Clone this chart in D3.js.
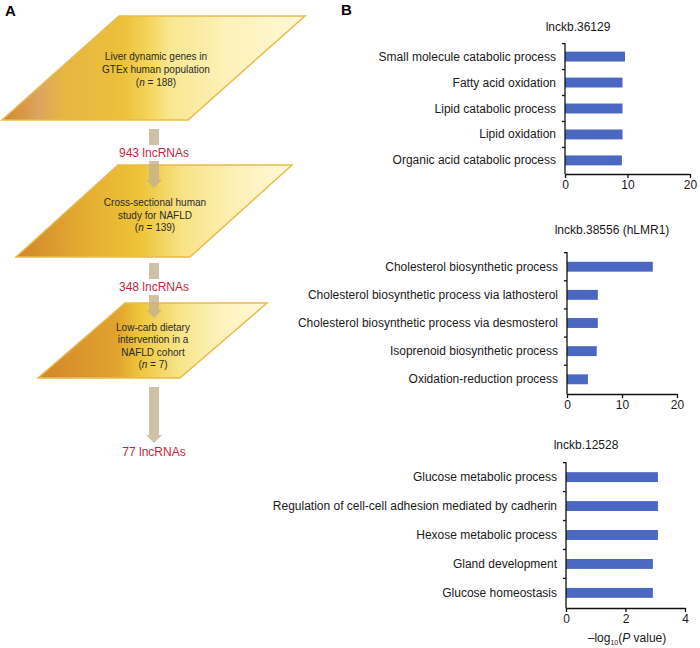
<!DOCTYPE html>
<html>
<head>
<meta charset="utf-8">
<script src="https://cdn.jsdelivr.net/npm/d3@7"></script>
<style>
  body { margin: 0; background: #fff; }
  svg { font-family: "Liberation Sans", Arial, Helvetica, sans-serif; }
</style>
</head>
<body>
<div class="fig"></div>
<script>
// panel B data
const terms1 = ['Small molecule catabolic process', 'Fatty acid oxidation', 'Lipid catabolic process', 'Lipid oxidation', 'Organic acid catabolic process']
const values1 = [9.6, 9.2, 9.2, 9.2, 9.1]
const ticks1 = [0, 10, 20]

const terms2 = ['Cholesterol biosynthetic process', 'Cholesterol biosynthetic process via lathosterol', 'Cholesterol biosynthetic process via desmosterol', 'Isoprenoid biosynthetic process', 'Oxidation-reduction process']
const values2 = [15.6, 5.6, 5.6, 5.4, 3.8]
const ticks2 = [0, 10, 20]

const terms3 = ['Glucose metabolic process', 'Regulation of cell-cell adhesion mediated by cadherin', 'Hexose metabolic process', 'Gland development', 'Glucose homeostasis']
const values3 = [3.09, 3.09, 3.09, 2.92, 2.92]
const ticks3 = [0, 2, 4]

const titles = ['lnckb.36129', 'lnckb.38556 (hLMR1)', 'lnckb.12528']

// panel A data
const steps = [
	['Liver dynamic genes in', 'GTEx human population', '188'],
	['Cross-sectional human', 'study for NAFLD', '139'],
	['Low-carb dietary', 'intervention in a', 'NAFLD cohort', '7']
]
const counts = ['943 lncRNAs', '348 lncRNAs', '77 lncRNAs']

const svg = d3.select('.fig')
	.append('svg')
	.attr('width', 700)
	.attr('height', 648)

const defs = svg.append('defs')

// panel letters
svg.append('text').attr('x', 5).attr('y', 16).text('A')
	.attr('font-size', 15).attr('font-weight', 'bold')
svg.append('text').attr('x', 341).attr('y', 15).text('B')
	.attr('font-size', 15).attr('font-weight', 'bold')

// ---- panel A: flow chart ----
// parallelogram boxes: top y, bottom y, bottom-left x, top-left x, top-right x
const boxes = [
	{ top: 16, bot: 120, bl: 2, tl: 119, tr: 305, lines: [60, 73, 86], cx: 156 },
	{ top: 165, bot: 257, bl: 16, tl: 118, tr: 292, lines: [206, 219, 231], cx: 155 },
	{ top: 303, bot: 378, bl: 38, tl: 125, tr: 267, lines: [331, 343, 356, 368], cx: 153 }
]

const gradStops = [
	[[0, '#d3862a'], [0.12, '#dca45e'], [0.2, '#e6b544'], [0.4, '#ecc13a'], [0.5, '#f6d862'], [0.55, '#f8e690'], [0.75, '#fdf2ba'], [1, '#fff8d6']],
	[[0, '#d2852a'], [0.25, '#e4ad32'], [0.45, '#edc438'], [0.6, '#f8e284'], [0.8, '#fdf1b8'], [1, '#fff8d6']],
	[[0, '#d2862a'], [0.35, '#e1a42e'], [0.45, '#efc73c'], [0.62, '#f8e48a'], [0.8, '#fdf2bc'], [1, '#fff8d8']]
]

boxes.forEach((b, i) => {
	const g = defs.append('linearGradient')
		.attr('id', 'grad' + i)
		.attr('gradientUnits', 'userSpaceOnUse')
		.attr('x1', b.bl).attr('x2', b.tr).attr('y1', 0).attr('y2', 0)
	g.selectAll('stop')
		.data(gradStops[i])
		.enter().append('stop')
		.attr('offset', d => d[0])
		.attr('stop-color', d => d[1])

	const off = b.tl - b.bl
	svg.append('path')
		.attr('d', `M${b.tl},${b.top}L${b.tr},${b.top}L${b.tr - off},${b.bot}L${b.bl},${b.bot}Z`)
		.attr('fill', `url(#grad${i})`)
		.attr('stroke', '#e9bb4c')
		.attr('stroke-width', 1.5)
})

// arrows between boxes
const arrows = [
	{ x: 154, y0: 129, y1: 188, label: 153 },
	{ x: 154, y0: 263, y1: 318, label: 287 },
	{ x: 154, y0: 387, y1: 443, label: 452 }
]

arrows.forEach((a, i) => {
	const hw = 5, hh = 8, head = 8
	svg.append('path')
		.attr('d', `M${a.x - hw},${a.y0}L${a.x + hw},${a.y0}L${a.x + hw},${a.y1 - head}L${a.x + hh},${a.y1 - head}L${a.x},${a.y1}L${a.x - hh},${a.y1 - head}L${a.x - hw},${a.y1 - head}Z`)
		.attr('fill', '#c4b08e')
		.attr('opacity', 0.8)

	svg.append('rect')
		.attr('x', a.x - 38).attr('y', a.label - 8)
		.attr('width', 76).attr('height', 16)
		.attr('fill', '#fff')
	svg.append('text')
		.attr('x', a.x).attr('y', a.label + 4)
		.attr('text-anchor', 'middle')
		.attr('font-size', 12)
		.attr('fill', '#cc1f40')
		.text(counts[i])
})

boxes.forEach((b, i) => {
	const lines = steps[i]
	lines.forEach((ln, j) => {
		const t = svg.append('text')
			.attr('x', b.cx).attr('y', b.lines[j])
			.attr('text-anchor', 'middle')
			.attr('font-size', 10)
			.attr('fill', '#2a2a2a')
		if (j === lines.length - 1) {
			t.append('tspan').text('(')
			t.append('tspan').attr('font-style', 'italic').text('n')
			t.append('tspan').text(' = ' + ln + ')')
		} else {
			t.text(ln)
		}
	})
})

// ---- panel B: bar charts ----
const charts = [
	{ terms: terms1, values: values1, ticks: ticks1, x0: 565, x1: 690, top: 43, bot: 174, tx: 578, ty: 31 },
	{ terms: terms2, values: values2, ticks: ticks2, x0: 567, x1: 677, top: 252, bot: 394, tx: 612, ty: 234 },
	{ terms: terms3, values: values3, ticks: ticks3, x0: 566, x1: 685, top: 462, bot: 608, tx: 586, ty: 449 }
]

charts.forEach((c, i) => {
	const x = d3.scaleLinear()
		.domain([c.ticks[0], c.ticks[c.ticks.length - 1]])
		.range([c.x0, c.x1])

	const y = d3.scaleBand()
		.domain(c.terms)
		.range([c.top, c.bot])
	y.paddingInner(1 - 10 / y.step()).paddingOuter((1 - 10 / y.step()) / 2)

	const graph = svg.append('g')

	graph.selectAll('rect')
		.data(c.values)
		.enter().append('rect')
		.attr('x', x(0))
		.attr('y', (d, k) => y(c.terms[k]))
		.attr('width', d => x(d) - x(0))
		.attr('height', y.bandwidth())
		.attr('fill', '#4a67c2')

	// y axis: ticks at band edges
	const edges = c.terms.map(t => y(t) - y.step() * y.paddingInner() / 2)
	graph.append('line')
		.attr('x1', c.x0).attr('x2', c.x0)
		.attr('y1', c.top).attr('y2', c.bot)
		.attr('stroke', '#111').attr('stroke-width', 1.3)
	graph.selectAll('.ytick')
		.data(edges)
		.enter().append('line')
		.attr('x1', c.x0 - 3).attr('x2', c.x0)
		.attr('y1', d => d).attr('y2', d => d)
		.attr('stroke', '#111').attr('stroke-width', 1.3)

	graph.selectAll('.ylab')
		.data(c.terms)
		.enter().append('text')
		.attr('x', c.x0 - 9)
		.attr('y', d => y(d) + y.bandwidth() / 2 + 4)
		.attr('text-anchor', 'end')
		.attr('font-size', 12)
		.attr('fill', '#1a1a1a')
		.text(d => d)

	// x axis
	const xAxis = d3.axisBottom(x)
		.tickValues(c.ticks)
		.tickFormat(d3.format('d'))
		.tickSize(4)
		.tickSizeOuter(0)
		.tickPadding(2)
	const xg = graph.append('g')
		.attr('transform', `translate(0, ${c.bot})`)
		.call(xAxis)
	xg.select('.domain').attr('stroke', '#111').attr('stroke-width', 1.3)
	xg.selectAll('.tick line').attr('stroke', '#111').attr('stroke-width', 1.3)
	xg.selectAll('text')
		.attr('font-family', 'inherit')
		.attr('font-size', 12)
		.attr('fill', '#1a1a1a')

	svg.append('text')
		.attr('x', c.tx).attr('y', c.ty)
		.attr('text-anchor', 'middle')
		.attr('font-size', 12)
		.attr('fill', '#1a1a1a')
		.text(titles[i])
})

// axis label under last chart
const lab = svg.append('text')
	.attr('x', 627).attr('y', 642)
	.attr('text-anchor', 'middle')
	.attr('font-size', 12)
	.attr('fill', '#1a1a1a')
lab.append('tspan').text('\u2013log')
lab.append('tspan').attr('font-size', 7).attr('dy', 3).text('10')
lab.append('tspan').attr('dy', -3).text('(')
lab.append('tspan').attr('font-style', 'italic').text('P')
lab.append('tspan').text(' value)')
</script>
</body>
</html>
